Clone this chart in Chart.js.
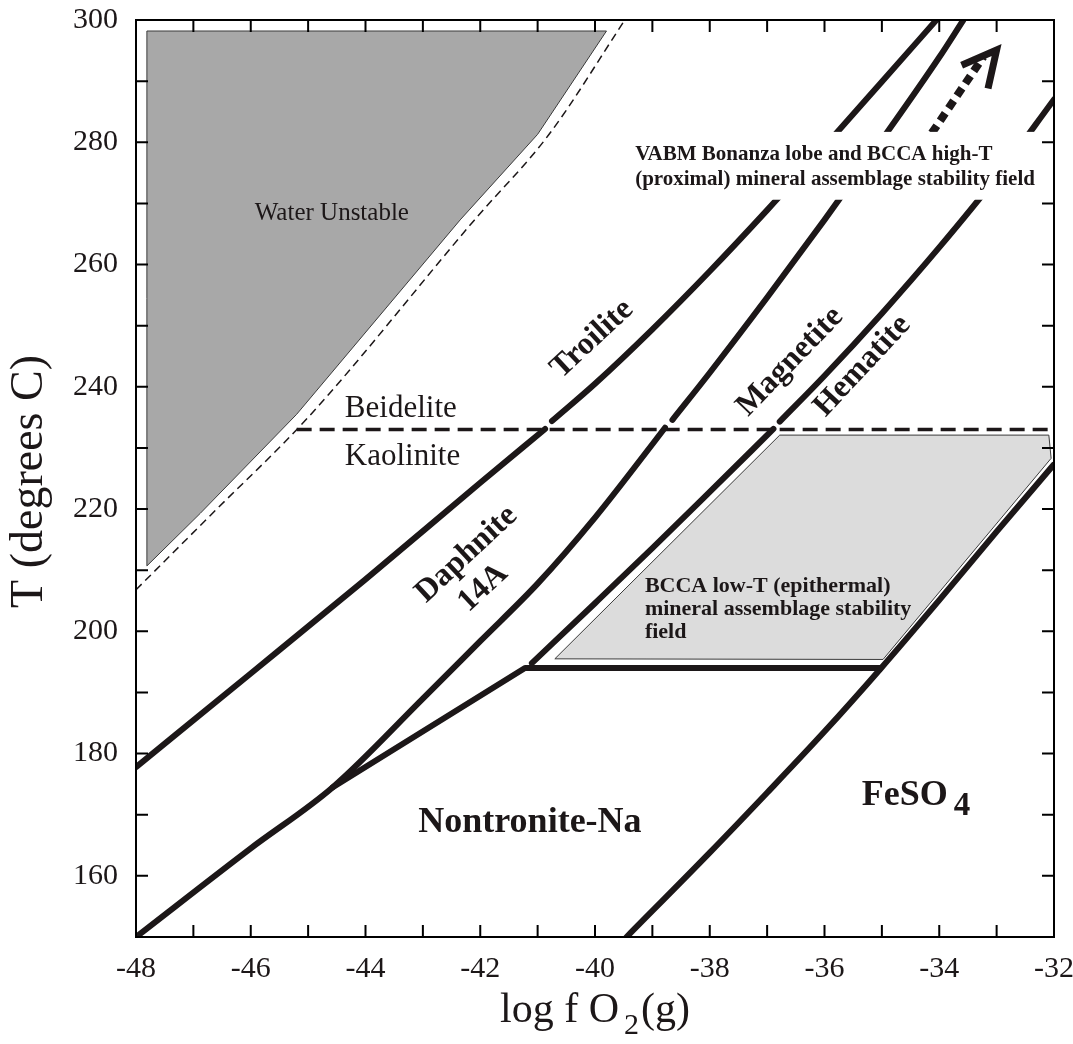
<!DOCTYPE html>
<html>
<head>
<meta charset="utf-8">
<script src="https://cdn.jsdelivr.net/npm/chart.js@4.4.0/dist/chart.umd.min.js"></script>
<style>
  html, body { margin: 0; padding: 0; background: #fff; }
</style>
</head>
<body>
<canvas id="phaseDiagram" width="1073" height="1044"></canvas>
<script>
// --- axis ticks ---
const xTickLabels = [-48, -46, -44, -42, -40, -38, -36, -34, -32];
const yTickLabels = [160, 180, 200, 220, 240, 260, 280, 300];
const xMinorTicks = [-47, -45, -43, -41, -39, -37, -35, -33];
const yMinorTicks = [170, 190, 210, 230, 250, 270, 290];

// --- phase boundaries, [log fO2, T] ---
const troiliteLow = [[-48, 177.8], [-46, 193.1], [-44, 208.5], [-42, 224.3], [-40.87, 233.1]];
const troiliteHigh = [[-40.75, 234.4], [-40, 240.5], [-39, 249.4], [-38, 258.9], [-37, 268.9], [-36, 279.3], [-35, 289.9], [-34.05, 300]];
const daphniteLow = [[-48, 150], [-46, 164.5], [-44.57, 174.5], [-43, 189.0], [-42, 198.4], [-41, 207.8], [-40, 218.6], [-39, 230.6], [-38.78, 233.3]];
const daphniteHigh = [[-38.65, 234.6], [-38, 242.3], [-37, 254.6], [-36, 267.3], [-35, 280.4], [-34, 293.9], [-33.58, 300]];
const hematiteLow = [[-41.1, 194.8], [-40, 204.6], [-39, 213.6], [-38, 222.8], [-36.89, 233.1]];
const hematiteHigh = [[-36.78, 234.3], [-36, 241.8], [-35, 252.0], [-34, 262.8], [-33, 274.3], [-32, 287.0]];
const nontroniteEdge = [[-44.57, 174.5], [-41.22, 194.0], [-35.03, 194.0]];
const feso4Edge = [[-39.45, 150], [-38, 163.8], [-37, 173.6], [-36, 183.6], [-35.03, 193.8], [-34, 205.1], [-33, 216.3], [-32.01, 227.2]];
const waterDashed = [[-48, 206.8], [-46.7, 219], [-45.0, 235], [-42.1, 267.3], [-40.8, 281.3], [-39.48, 300]];
const clayDashed = [[-45.2, 233], [-32, 233]];
const waterField = [[-47.81, 210.7], [-47.81, 298.2], [-39.8, 298.2], [-41.0, 281.3], [-42.35, 267.3], [-45.2, 235.5], [-46.88, 219.3], [-47.81, 210.7]];
const lowTField = [[-40.7, 195.5], [-36.78, 232.1], [-32.09, 232.1], [-32.05, 228.3], [-34.98, 195.4], [-40.7, 195.5]];
const arrowShaft = [[-34.13, 281.5], [-33.23, 294.0]];
const arrowHead = [[-33.61, 292.6], [-33.0, 295.1], [-33.15, 288.8]];

const ink = '#1c1718';
const serif = '"Liberation Serif", "Times New Roman", serif';

const toPoints = arr => arr.map(p => ({ x: p[0], y: p[1] }));

function boundary(arr, smooth) {
    return {
        data: toPoints(arr),
        showLine: true,
        borderColor: ink,
        borderWidth: 6,
        pointRadius: 0,
        borderCapStyle: 'round',
        borderJoinStyle: 'round',
        cubicInterpolationMode: smooth ? 'monotone' : 'default',
        tension: 0,
        fill: false,
        order: 2
    };
}

// text placed in data units
const labels = [
    { text: 'Troilite', x: -40.05, y: 247.8, rot: -43, font: 'bold 32px', align: 'center', base: 'middle' },
    { text: 'Magnetite', x: -36.6, y: 244.1, rot: -46, font: 'bold 32px', align: 'center', base: 'middle' },
    { text: 'Hematite', x: -35.34, y: 243.4, rot: -47, font: 'bold 32px', align: 'center', base: 'middle' },
    { text: 'Daphnite', x: -42.24, y: 212.6, rot: -43, font: 'bold 32px', align: 'center', base: 'middle' },
    { text: '14A', x: -41.95, y: 207.1, rot: -43, font: 'bold 32px', align: 'center', base: 'middle' },
    { text: 'Beidelite', x: -44.36, y: 235.1, rot: 0, font: '31px', align: 'left', base: 'alphabetic' },
    { text: 'Kaolinite', x: -44.36, y: 227.2, rot: 0, font: '31px', align: 'left', base: 'alphabetic' },
    { text: 'Water Unstable', x: -45.93, y: 267.3, rot: 0, font: '25px', align: 'left', base: 'alphabetic' },
    { text: 'VABM Bonanza lobe and BCCA high-T', x: -39.3, y: 277.1, rot: 0, font: 'bold 21px', align: 'left', base: 'alphabetic' },
    { text: '(proximal) mineral assemblage stability field', x: -39.3, y: 273.0, rot: 0, font: 'bold 21px', align: 'left', base: 'alphabetic' },
    { text: 'BCCA low-T (epithermal)', x: -39.13, y: 206.5, rot: 0, font: 'bold 22px', align: 'left', base: 'alphabetic' },
    { text: 'mineral assemblage stability', x: -39.13, y: 202.7, rot: 0, font: 'bold 22px', align: 'left', base: 'alphabetic' },
    { text: 'field', x: -39.13, y: 198.9, rot: 0, font: 'bold 22px', align: 'left', base: 'alphabetic' },
    { text: 'Nontronite-Na', x: -43.08, y: 167.2, rot: 0, font: 'bold 36px', align: 'left', base: 'alphabetic' }
];

const diagramDecor = {
    id: 'diagramDecor',
    afterDatasetsDraw(chart) {
        const { ctx, chartArea: a, scales: { x, y } } = chart;
        const px = v => x.getPixelForValue(v);
        const py = v => y.getPixelForValue(v);
        ctx.save();

        // white panel behind the high-T note (breaks the lines)
        ctx.fillStyle = '#fff';
        ctx.fillRect(px(-39.42), py(281.7), a.right - 2 - px(-39.42), py(270.6) - py(281.7));

        ctx.fillStyle = ink;
        labels.forEach(l => {
            ctx.save();
            ctx.translate(px(l.x), py(l.y));
            ctx.rotate(l.rot * Math.PI / 180);
            ctx.font = l.font + ' ' + serif;
            ctx.textAlign = l.align;
            ctx.textBaseline = l.base;
            ctx.fillText(l.text, 0, 0);
            ctx.restore();
        });

        // FeSO4 with subscript
        ctx.textAlign = 'left';
        ctx.textBaseline = 'alphabetic';
        ctx.font = 'bold 36px ' + serif;
        const fx = px(-35.35), fy = py(171.6);
        ctx.fillText('FeSO', fx, fy);
        const fw = ctx.measureText('FeSO').width;
        ctx.font = 'bold 33px ' + serif;
        ctx.fillText('4', fx + fw + 6, fy + 10);

        // frame and inward ticks
        ctx.strokeStyle = '#000';
        ctx.lineWidth = 2;
        ctx.strokeRect(a.left, a.top, a.width, a.height);
        ctx.beginPath();
        xTickLabels.concat(xMinorTicks).forEach(v => {
            const p = px(v);
            ctx.moveTo(p, a.bottom); ctx.lineTo(p, a.bottom - 12);
            ctx.moveTo(p, a.top); ctx.lineTo(p, a.top + 12);
        });
        yTickLabels.concat(yMinorTicks).forEach(v => {
            const p = py(v);
            ctx.moveTo(a.left, p); ctx.lineTo(a.left + 12, p);
            ctx.moveTo(a.right, p); ctx.lineTo(a.right - 12, p);
        });
        ctx.stroke();

        // axis titles
        ctx.fillStyle = ink;
        ctx.save();
        ctx.translate(42, (a.top + a.bottom) / 2 + 3);
        ctx.rotate(-Math.PI / 2);
        ctx.font = '46px ' + serif;
        ctx.textAlign = 'center';
        ctx.textBaseline = 'alphabetic';
        ctx.fillText('T (degrees C)', 0, 0);
        ctx.restore();

        ctx.textAlign = 'left';
        ctx.font = '42px ' + serif;
        const p1 = 'log f O', p3 = '(g)';
        const w1 = ctx.measureText(p1).width, w3 = ctx.measureText(p3).width;
        ctx.font = '30px ' + serif;
        const w2 = ctx.measureText('2').width;
        const total = w1 + 5 + w2 + 2 + w3;
        const tx = (a.left + a.right) / 2 - total / 2;
        const ty = 1022;
        ctx.font = '42px ' + serif;
        ctx.fillText(p1, tx, ty);
        ctx.font = '30px ' + serif;
        ctx.fillText('2', tx + w1 + 5, ty + 12);
        ctx.font = '42px ' + serif;
        ctx.fillText(p3, tx + w1 + 5 + w2 + 2, ty);
        ctx.restore();
    }
};

const tickFont = { family: serif, size: 30 };

// fix the plot box: no automatic label overflow padding
function fixBox(s, size) {
    if (s.isHorizontal()) s.height = size; else s.width = size;
    s.paddingTop = 0; s.paddingBottom = 0; s.paddingLeft = 0; s.paddingRight = 0;
}

new Chart(document.getElementById('phaseDiagram').getContext('2d'), {
    type: 'scatter',
    data: {
        datasets: [
            {
                data: toPoints(waterField), showLine: true, tension: 0,
                borderColor: '#3a3a3a', borderWidth: 1, backgroundColor: '#a8a8a8',
                pointRadius: 0, fill: 'shape', order: 10
            },
            {
                data: toPoints(lowTField), showLine: true, tension: 0,
                borderColor: '#3a3a3a', borderWidth: 1, backgroundColor: '#dcdcdc',
                pointRadius: 0, fill: 'shape', order: 10
            },
            {
                data: toPoints(waterDashed), showLine: true, cubicInterpolationMode: 'monotone',
                borderColor: ink, borderWidth: 1.5, borderDash: [8, 5],
                pointRadius: 0, fill: false, order: 5
            },
            {
                data: toPoints(clayDashed), showLine: true,
                borderColor: ink, borderWidth: 3.5, borderDash: [15, 8],
                pointRadius: 0, fill: false, order: 5
            },
            boundary(troiliteLow, true),
            boundary(troiliteHigh, true),
            boundary(daphniteLow, true),
            boundary(daphniteHigh, true),
            boundary(hematiteLow, true),
            boundary(hematiteHigh, true),
            boundary(nontroniteEdge, false),
            boundary(feso4Edge, true),
            {
                data: toPoints(arrowShaft), showLine: true,
                borderColor: ink, borderWidth: 8, borderDash: [9, 6], borderCapStyle: 'butt',
                pointRadius: 0, fill: false, order: 1
            },
            {
                data: toPoints(arrowHead), showLine: true, tension: 0,
                borderColor: ink, borderWidth: 7, borderJoinStyle: 'miter', borderCapStyle: 'butt',
                pointRadius: 0, fill: false, order: 1
            }
        ]
    },
    options: {
        responsive: false,
        animation: false,
        layout: { padding: { top: 20, right: 19, left: 0, bottom: 0 } },
        plugins: {
            legend: { display: false },
            tooltip: { enabled: false }
        },
        scales: {
            x: {
                type: 'linear',
                min: -48,
                max: -32,
                afterBuildTicks: s => { s.ticks = xTickLabels.map(v => ({ value: v })); },
                afterFit: s => fixBox(s, 107),
                grid: { display: false, drawTicks: false },
                border: { display: false },
                ticks: { font: tickFont, color: ink, padding: 14, maxRotation: 0, autoSkip: false }
            },
            y: {
                type: 'linear',
                min: 150,
                max: 300,
                afterBuildTicks: s => { s.ticks = yTickLabels.map(v => ({ value: v })); },
                afterFit: s => fixBox(s, 136),
                grid: { display: false, drawTicks: false },
                border: { display: false },
                ticks: { font: tickFont, color: ink, padding: 18, autoSkip: false }
            }
        }
    },
    plugins: [diagramDecor]
});
</script>
</body>
</html>
